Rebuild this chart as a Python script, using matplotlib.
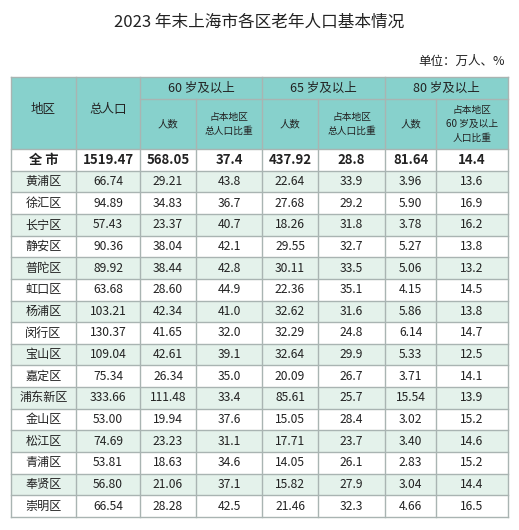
import matplotlib
matplotlib.use("Agg")
import matplotlib.pyplot as plt
from matplotlib.patches import Rectangle

plt.rcParams['font.family'] = ['Noto Sans CJK SC', 'DejaVu Sans']

title = "2023 年末上海市各区老年人口基本情况"
unit = "单位：万人、%"
districts = ["全 市", "黄浦区", "徐汇区", "长宁区", "静安区", "普陀区", "虹口区", "杨浦区", "闵行区",
             "宝山区", "嘉定区", "浦东新区", "金山区", "松江区", "青浦区", "奉贤区", "崇明区"]
total_pop = ["1519.47", "66.74", "94.89", "57.43", "90.36", "89.92", "63.68", "103.21", "130.37",
             "109.04", "75.34", "333.66", "53.00", "74.69", "53.81", "56.80", "66.54"]
pop60 = ["568.05", "29.21", "34.83", "23.37", "38.04", "38.44", "28.60", "42.34", "41.65",
         "42.61", "26.34", "111.48", "19.94", "23.23", "18.63", "21.06", "28.28"]
ratio60 = ["37.4", "43.8", "36.7", "40.7", "42.1", "42.8", "44.9", "41.0", "32.0",
           "39.1", "35.0", "33.4", "37.6", "31.1", "34.6", "37.1", "42.5"]
pop65 = ["437.92", "22.64", "27.68", "18.26", "29.55", "30.11", "22.36", "32.62", "32.29",
         "32.64", "20.09", "85.61", "15.05", "17.71", "14.05", "15.82", "21.46"]
ratio65 = ["28.8", "33.9", "29.2", "31.8", "32.7", "33.5", "35.1", "31.6", "24.8",
           "29.9", "26.7", "25.7", "28.4", "23.7", "26.1", "27.9", "32.3"]
pop80 = ["81.64", "3.96", "5.90", "3.78", "5.27", "5.06", "4.15", "5.86", "6.14",
         "5.33", "3.71", "15.54", "3.02", "3.40", "2.83", "3.04", "4.66"]
ratio80 = ["14.4", "13.6", "16.9", "16.2", "13.8", "13.2", "14.5", "13.8", "14.7",
           "12.5", "14.1", "13.9", "15.2", "14.6", "15.2", "14.4", "16.5"]
group_labels = ["60 岁及以上", "65 岁及以上", "80 岁及以上"]
sub_labels = ["人数", "占本地区\n总人口比重", "人数", "占本地区\n总人口比重", "人数", "占本地区\n60 岁及以上\n人口比重"]

W, H = 519, 530
fig = plt.figure(figsize=(W/100, H/100), dpi=100)
ax = fig.add_axes([0, 0, 1, 1])
ax.set_xlim(0, W); ax.set_ylim(H, 0); ax.axis('off')

cols = [11, 76, 140, 196, 262, 318, 385, 436, 508]
y_top, y_mid, y_head = 77, 99, 149
y_bot = 517
nrows = len(districts)
rh = (y_bot - y_head) / nrows
head_c = "#87d1cc"; shade = "#e4f2eb"; line_c = "#a9b4b2"; txt = "#222222"

ax.text(W/2, 22, title, ha='center', va='center', fontsize=12, color=txt)
ax.text(505, 61, unit, ha='right', va='center', fontsize=9, color=txt)

ax.add_patch(Rectangle((cols[0], y_top), cols[-1]-cols[0], y_head-y_top, fc=head_c, ec='none'))
cols_data = [districts, total_pop, pop60, ratio60, pop65, ratio65, pop80, ratio80]
for i in range(nrows):
    y0 = y_head + i*rh
    if i >= 1 and (i-1) % 2 == 0:
        ax.add_patch(Rectangle((cols[0], y0), cols[-1]-cols[0], rh, fc=shade, ec='none'))
    for j, col in enumerate(cols_data):
        ax.text((cols[j]+cols[j+1])/2, y0+rh/2, col[i], ha='center', va='center',
                fontsize=9.5 if i == 0 else 8.7, fontweight='bold' if i == 0 else 'normal', color=txt)

ax.text((cols[0]+cols[1])/2, (y_top+y_head)/2 - 4, "地区", ha='center', va='center', fontsize=9, color=txt)
ax.text((cols[1]+cols[2])/2, (y_top+y_head)/2 - 4, "总人口", ha='center', va='center', fontsize=9, color=txt)
for g in range(3):
    ax.text((cols[2+2*g]+cols[4+2*g])/2, (y_top+y_mid)/2, group_labels[g], ha='center', va='center', fontsize=9, color=txt)
for k, s in enumerate(sub_labels):
    ax.text((cols[2+k]+cols[3+k])/2, (y_mid+y_head)/2, s, ha='center', va='center',
            fontsize=7.5 if s == "人数" else 7, color=txt, linespacing=1.45)

lw = 1.0
for x in cols:
    if x in (cols[0], cols[1], cols[2], cols[4], cols[6], cols[-1]):
        ax.plot([x, x], [y_top, y_bot], color=line_c, lw=lw)
    else:
        ax.plot([x, x], [y_mid, y_bot], color=line_c, lw=lw)
ax.plot([cols[2], cols[-1]], [y_mid, y_mid], color=line_c, lw=lw)
ax.plot([cols[0], cols[-1]], [y_top, y_top], color=line_c, lw=lw)
for i in range(nrows+1):
    y = y_head + i*rh
    ax.plot([cols[0], cols[-1]], [y, y], color=line_c, lw=lw)

fig.savefig("out.png", dpi=100)
